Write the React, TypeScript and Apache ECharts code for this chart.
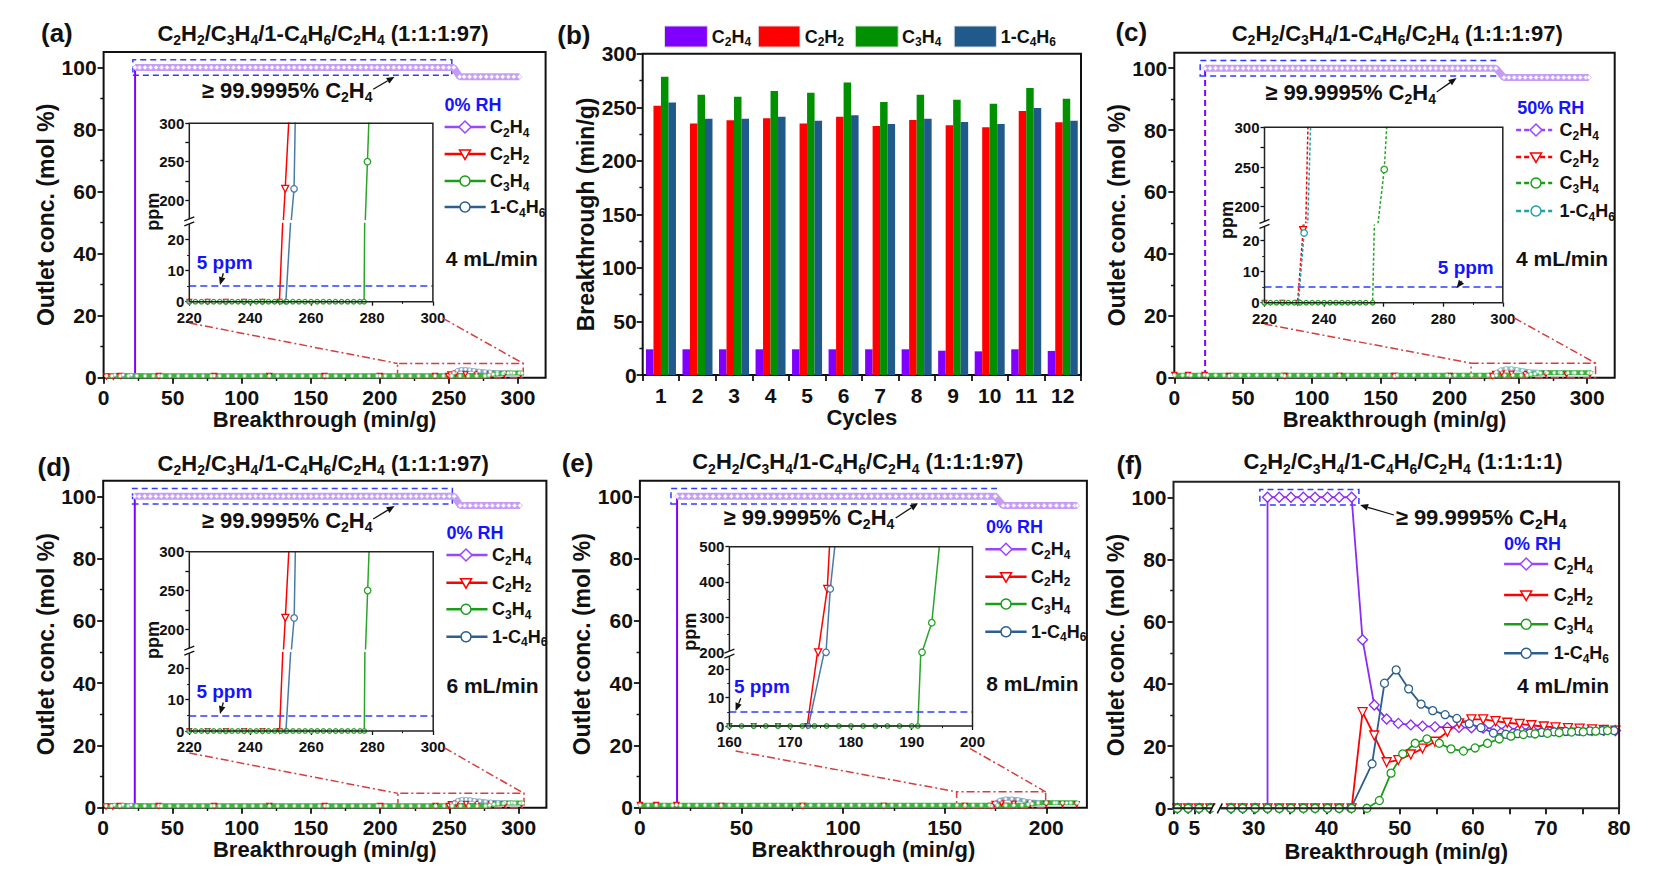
import React, { useEffect, useRef } from 'react';
import * as echarts from 'echarts';

const FF = "'Liberation Sans', Arial, Helvetica, sans-serif";
const TXT = '#111111';
const PURPLE = '#8000ff';
const RED = '#ff0000';
const GREEN = '#1a9e1a';
const BLUE = '#2d5f8e';
const TEAL = '#20a0a8';
const RH_BLUE = '#1414ff';
const DASH_BLUE = '#2f3dff';
const ZOOM_RED = '#d83c3c';

// ---------- (b) cycling test ----------
const cycles = ['1', '2', '3', '4', '5', '6', '7', '8', '9', '10', '11', '12'];
const bC2H4 = [24, 24, 24, 24, 24, 24, 24, 24, 22.7, 22.1, 24, 22.5];
const bC2H2 = [251.5, 235, 238, 239.7, 235, 241.3, 232.5, 238.1, 233.2, 231.3, 246.5, 236];
const bC3H4 = [278.6, 261.8, 260, 265.2, 263.7, 273.3, 255, 261.8, 257.1, 253.4, 268, 258];
const bC4H6 = [254.6, 239.4, 239.4, 241.3, 237.5, 242.5, 234.4, 239.4, 236.3, 234.4, 249.4, 237.5];

// ---------- tick label lists ----------
const mainYTicks = [0, 20, 40, 60, 80, 100];
const mainXTicks300 = [0, 50, 100, 150, 200, 250, 300];
const mainXTicks200 = [0, 50, 100, 150, 200];
const insLowTicks = [0, 10, 20];
const insUpLabels = [200, 250, 300];
const insUpTicks = [200, 225, 250, 275, 300];
const fLeftTicks = [0, 5];
const fRightLabels = [30, 40, 50, 60, 70, 80];
const fRightTicks = [30, 35, 40, 45, 50, 55, 60, 65, 70, 75, 80];

// ---------- (a) and (d): 0% RH, 4 / 6 mL/min (curves read identical) ----------
const aMainC2H4 = [[2, 0.6], [8, 0.6], [14, 0.6], [20, 0.6], [22.8, 0.6], [22.8, 100],
  [26, 100], [30, 100], [34, 100], [38, 100], [42, 100], [46, 100], [50, 100], [54, 100], [58, 100], [62, 100], [66, 100], [70, 100], [74, 100], [78, 100],
  [82, 100], [86, 100], [90, 100], [94, 100], [98, 100], [102, 100], [106, 100], [110, 100], [114, 100], [118, 100], [122, 100], [126, 100], [130, 100],
  [134, 100], [138, 100], [142, 100], [146, 100], [150, 100], [154, 100], [158, 100], [162, 100], [166, 100], [170, 100], [174, 100], [178, 100], [182, 100],
  [186, 100], [190, 100], [194, 100], [198, 100], [202, 100], [206, 100], [210, 100], [214, 100], [218, 100], [222, 100], [226, 100], [230, 100], [234, 100],
  [238, 100], [242, 100], [246, 100], [250, 100], [253.5, 100],
  [257.8, 97], [261, 97], [265, 97], [269, 97], [273, 97], [277, 97], [281, 97], [285, 97], [289, 97], [293, 97], [297, 97], [301, 97]];
const aMainC2H2 = [[2, 0.4], [7, 0.3], [12, 0.6], [40, 0.6], [80, 0.6], [120, 0.6], [160, 0.6], [200, 0.6], [240, 0.6], [249.5, 0.6], [251, 1.1], [255, 1.3],
  [262, 1.2], [270, 1.2], [280, 1.1], [290, 1.1], [302, 1.1]];
const aMainC4H6 = [[8, 0.9], [14, 0.9], [20, 0.9], [40, 0.6], [80, 0.6], [120, 0.6], [160, 0.6], [200, 0.6], [240, 0.6], [251.5, 0.6], [253.5, 1.6], [256, 2.4],
  [259, 2.7], [262, 2.7], [265, 2.6], [268, 2.4], [272, 2.2], [276, 2.0], [280, 1.9], [285, 1.8], [290, 1.7], [295, 1.6], [302, 1.5]];
const aMainC3H4 = [[2, 0.6], [6, 0.6], [12, 0.6], [18, 0.6], [24, 0.6], [30, 0.6], [36, 0.6], [42, 0.6], [48, 0.6], [54, 0.6], [60, 0.6], [66, 0.6], [72, 0.6],
  [78, 0.6], [84, 0.6], [90, 0.6], [96, 0.6], [102, 0.6], [108, 0.6], [114, 0.6], [120, 0.6], [126, 0.6], [132, 0.6], [138, 0.6], [144, 0.6], [150, 0.6],
  [156, 0.6], [162, 0.6], [168, 0.6], [174, 0.6], [180, 0.6], [186, 0.6], [192, 0.6], [198, 0.6], [204, 0.6], [210, 0.6], [216, 0.6], [222, 0.6], [228, 0.6],
  [234, 0.6], [240, 0.6], [246, 0.6], [252, 0.6], [258, 0.6], [264, 0.6], [270, 0.6], [276, 0.6], [279, 0.8], [282, 1.1], [285, 1.3], [289, 1.4], [293, 1.5],
  [297, 1.5], [301, 1.5], [303, 1.5]];
const aInsC2H2 = [[220, 0], [226, 0], [232, 0], [238, 0], [244, 0], [249.6, 0], [250.7, 26], [250.9, 174], [251.5, 214.7], [252.7, 305]];
const aInsC4H6 = [[220, 0], [226, 0], [232, 0], [238, 0], [244, 0], [251.7, 0], [253.3, 26], [253.5, 174], [254.4, 214.7], [254.8, 305]];
const aInsC3H4 = [[220, 0], [222, 0], [224, 0], [226, 0], [228, 0], [230, 0], [232, 0], [234, 0], [236, 0], [238, 0], [240, 0], [242, 0], [244, 0], [246, 0],
  [248, 0], [250, 0], [252, 0], [254, 0], [256, 0], [258, 0], [260, 0], [262, 0], [264, 0], [266, 0], [268, 0], [270, 0], [272, 0], [274, 0], [276, 0],
  [277.4, 0], [277.6, 26], [277.8, 174], [278.5, 250], [279.0, 305]];

// ---------- (c): 50% RH ----------
const cMainC2H4 = [[0, 0.8], [5, 0.8], [10, 0.8], [15, 0.8], [20, 0.8], [22.4, 0.8], [22.4, 100],
  [26, 100], [30, 100], [34, 100], [38, 100], [42, 100], [46, 100], [50, 100], [54, 100], [58, 100], [62, 100], [66, 100], [70, 100], [74, 100], [78, 100],
  [82, 100], [86, 100], [90, 100], [94, 100], [98, 100], [102, 100], [106, 100], [110, 100], [114, 100], [118, 100], [122, 100], [126, 100], [130, 100],
  [134, 100], [138, 100], [142, 100], [146, 100], [150, 100], [154, 100], [158, 100], [162, 100], [166, 100], [170, 100], [174, 100], [178, 100], [182, 100],
  [186, 100], [190, 100], [194, 100], [198, 100], [202, 100], [206, 100], [210, 100], [214, 100], [218, 100], [222, 100], [226, 100], [230, 100], [233.7, 100],
  [239.5, 97], [243, 97], [247, 97], [251, 97], [255, 97], [259, 97], [263, 97], [267, 97], [271, 97], [275, 97], [279, 97], [283, 97], [287, 97], [291, 97],
  [295, 97], [299, 97], [301.2, 97]];
const cMainC2H2 = [[0, 0.9], [10, 0.9], [22, 0.9], [40, 0.6], [80, 0.6], [120, 0.6], [160, 0.6], [200, 0.6], [231, 0.6], [233, 1.2], [238, 1.4], [245, 1.3],
  [255, 1.2], [270, 1.2], [285, 1.1], [302, 1.1]];
const cMainC4H6 = [[0, 0.9], [10, 0.9], [22, 0.9], [40, 0.6], [80, 0.6], [120, 0.6], [160, 0.6], [200, 0.6], [231.5, 0.6], [234, 1.8], [237, 2.6], [241, 3.0],
  [245, 3.0], [249, 2.7], [253, 2.4], [258, 2.1], [264, 1.9], [270, 1.8], [280, 1.7], [290, 1.6], [302, 1.5]];
const cMainC3H4 = [[0, 0.8], [6, 0.8], [12, 0.8], [18, 0.8], [24, 0.8], [30, 0.8], [36, 0.8], [42, 0.8], [48, 0.8], [54, 0.8], [60, 0.8], [66, 0.8], [72, 0.8],
  [78, 0.8], [84, 0.8], [90, 0.8], [96, 0.8], [102, 0.8], [108, 0.8], [114, 0.8], [120, 0.8], [126, 0.8], [132, 0.8], [138, 0.8], [144, 0.8], [150, 0.8],
  [156, 0.8], [162, 0.8], [168, 0.8], [174, 0.8], [180, 0.8], [186, 0.8], [192, 0.8], [198, 0.8], [204, 0.8], [210, 0.8], [216, 0.8], [222, 0.8], [228, 0.8],
  [234, 0.8], [240, 0.8], [246, 0.8], [252, 0.8], [256.3, 0.8], [259, 1.1], [262, 1.3], [266, 1.5], [271, 1.6], [276, 1.6], [281, 1.6], [286, 1.6], [291, 1.6],
  [296, 1.6], [301, 1.6], [303, 1.6]];
const cInsC2H2 = [[220, 0], [226, 0], [231.1, 0], [232.96, 23.4], [234.6, 305]];
const cInsC4H6 = [[220, 0], [226, 0], [231.4, 0], [233.3, 22.5], [235.5, 305]];
const cInsC3H4 = [[220, 0], [222, 0], [224, 0], [226, 0], [228, 0], [230, 0], [232, 0], [234, 0], [236, 0], [238, 0], [240, 0], [242, 0], [244, 0], [246, 0],
  [248, 0], [250, 0], [252, 0], [254, 0], [256.3, 0], [256.9, 26], [258.1, 179], [260.2, 247], [261.1, 305]];

// ---------- (e): 8 mL/min ----------
const eMainC2H4 = [[0, 0.8], [5, 0.8], [10, 0.8], [15, 0.8], [18.3, 0.8], [18.3, 100],
  [21, 100], [24, 100], [27, 100], [30, 100], [33, 100], [36, 100], [39, 100], [42, 100], [45, 100], [48, 100], [51, 100], [54, 100], [57, 100], [60, 100],
  [63, 100], [66, 100], [69, 100], [72, 100], [75, 100], [78, 100], [81, 100], [84, 100], [87, 100], [90, 100], [93, 100], [96, 100], [99, 100], [102, 100],
  [105, 100], [108, 100], [111, 100], [114, 100], [117, 100], [120, 100], [123, 100], [126, 100], [129, 100], [132, 100], [135, 100], [138, 100], [141, 100],
  [144, 100], [147, 100], [150, 100], [153, 100], [156, 100], [159, 100], [162, 100], [165, 100], [168, 100], [171, 100], [174.9, 100],
  [178.8, 97], [181, 97], [184, 97], [187, 97], [190, 97], [193, 97], [196, 97], [199, 97], [202, 97], [205, 97], [208, 97], [211, 97], [214, 97], [215.3, 97]];
const eMainC2H2 = [[0, 0.9], [8, 0.9], [18, 0.9], [40, 0.6], [80, 0.6], [120, 0.6], [160, 0.6], [172.8, 0.6], [174.5, 1.2], [178, 1.4], [184, 1.3], [192, 1.2],
  [200, 1.2], [208, 1.1], [215, 1.1]];
const eMainC4H6 = [[0, 0.9], [8, 0.9], [18, 0.9], [40, 0.6], [80, 0.6], [120, 0.6], [160, 0.6], [173, 0.6], [175, 1.5], [177, 2.5], [180, 2.9], [183, 2.9],
  [186, 2.7], [189, 2.3], [192, 2.0], [196, 1.8], [200, 1.7], [205, 1.6], [210, 1.5], [215, 1.5]];
const eMainC3H4 = [[0, 0.8], [4, 0.8], [8, 0.8], [12, 0.8], [16, 0.8], [20, 0.8], [24, 0.8], [28, 0.8], [32, 0.8], [36, 0.8], [40, 0.8], [44, 0.8], [48, 0.8],
  [52, 0.8], [56, 0.8], [60, 0.8], [64, 0.8], [68, 0.8], [72, 0.8], [76, 0.8], [80, 0.8], [84, 0.8], [88, 0.8], [92, 0.8], [96, 0.8], [100, 0.8], [104, 0.8],
  [108, 0.8], [112, 0.8], [116, 0.8], [120, 0.8], [124, 0.8], [128, 0.8], [132, 0.8], [136, 0.8], [140, 0.8], [144, 0.8], [148, 0.8], [152, 0.8], [156, 0.8],
  [160, 0.8], [164, 0.8], [168, 0.8], [172, 0.8], [176, 0.8], [180, 0.8], [184, 0.8], [188, 0.8], [191, 1.0], [193, 1.3], [196, 1.5], [200, 1.6], [204, 1.6],
  [208, 1.6], [212, 1.6], [215.3, 1.6]];
const eInsC2H2 = [[160, 0], [164, 0], [168, 0], [172.8, 0], [174.5, 26], [174.6, 200], [176.1, 380], [176.5, 510]];
const eInsC4H6 = [[160, 0], [164, 0], [168, 0], [173.0, 0], [175.6, 26], [175.9, 200], [176.6, 380], [177.4, 510]];
const eInsC3H4 = [[160, 0], [162, 0], [164, 0], [166, 0], [168, 0], [170, 0], [172, 0], [174, 0], [176, 0], [178, 0], [180, 0], [182, 0], [184, 0], [186, 0],
  [188, 0], [190, 0], [191.0, 0], [191.5, 26], [191.7, 200], [193.3, 284], [194.6, 510]];

// ---------- (f): 1:1:1:1 ----------
const fC2H4 = [[0.9, 0], [3.5, 0], [6.1, 0], [8.8, 0], [26.9, 0], [28.5, 0], [30.2, 0], [31.9, 0], [31.9, 100], [33.5, 100], [35.1, 100], [36.8, 100],
  [38.4, 100], [40.1, 100], [41.7, 100], [43.4, 100], [44.9, 54.2], [46.5, 33.2], [48.2, 28.7], [49.8, 27.3], [51.5, 26.8], [53.1, 26.4], [54.8, 26.2],
  [56.5, 26.0], [58.1, 26.0], [59.8, 25.9], [61.4, 25.8], [63.1, 25.7], [64.7, 25.6], [66.4, 25.5], [68.0, 25.4], [69.7, 25.3], [71.3, 25.2], [73.0, 25.1],
  [74.6, 25.1], [76.3, 25.0], [77.9, 25.0], [79.5, 25.0]];
const fC2H2 = [[0.9, 0], [3.5, 0], [6.1, 0], [8.8, 0], [26.9, 0], [28.5, 0], [30.2, 0], [31.9, 0], [33.5, 0], [35.1, 0], [36.8, 0], [38.4, 0], [40.1, 0],
  [41.7, 0], [43.4, 0], [44.9, 30.9], [46.5, 23.4], [48.2, 14.8], [49.8, 15.5], [51.5, 17.3], [53.1, 19.2], [54.8, 21.4], [56.5, 24.6], [58.1, 27.3],
  [59.8, 28.6], [61.4, 28.6], [63.1, 28.0], [64.7, 27.5], [66.4, 27.1], [68.0, 26.7], [69.7, 26.3], [71.3, 26.0], [73.0, 25.8], [74.6, 25.6], [76.3, 25.4],
  [77.9, 25.2], [79.5, 25.0]];
const fC3H4 = [[0.9, 0], [3.5, 0], [6.1, 0], [8.8, 0], [26.9, 0], [28.5, 0], [30.2, 0], [31.9, 0], [33.5, 0], [35.1, 0], [36.8, 0], [38.4, 0], [40.1, 0],
  [41.7, 0], [43.4, 0], [45.5, 0], [47.2, 2.5], [48.8, 11.3], [50.4, 17.5], [52.1, 20.9], [53.7, 22.3], [55.4, 20.9], [57.0, 19.1], [58.7, 18.4], [60.3, 19.4],
  [62.0, 20.9], [63.6, 22.3], [65.2, 23.2], [66.9, 23.7], [68.5, 23.9], [70.2, 24.1], [71.8, 24.3], [73.5, 24.5], [75.1, 24.6], [76.8, 24.8], [78.4, 25.0]];
const fC4H6 = [[0.9, 0], [3.5, 0], [6.1, 0], [8.8, 0], [26.9, 0], [28.5, 0], [30.2, 0], [31.9, 0], [33.5, 0], [35.1, 0], [36.8, 0], [38.4, 0], [40.1, 0],
  [41.7, 0], [43.3, 0], [46.2, 14.3], [47.9, 40.2], [49.5, 44.5], [51.2, 38.4], [52.9, 33.5], [54.5, 31.4], [56.2, 30.1], [57.8, 28.9], [59.5, 27.2],
  [61.1, 25.9], [62.8, 24.2], [64.5, 23.8], [66.1, 24.0], [67.8, 24.2], [69.4, 24.4], [71.1, 24.6], [72.7, 24.7], [74.4, 24.8], [76.0, 24.9], [77.7, 25.0],
  [79.3, 25.0]];

const title97 = 'C2H2/C3H4/1-C4H6/C2H4 (1:1:1:97)';
const title1 = 'C2H2/C3H4/1-C4H6/C2H4 (1:1:1:1)';
const purity = '≥ 99.9995% C2H4';

// ---------- layout ----------
const grids: any[] = [
  { left: 103.6, top: 52, width: 442, height: 325.7 },     // 0 a main
  { left: 189.3, top: 223.5, width: 243.6, height: 78.2 },  // 1 a inset low
  { left: 189.3, top: 123.3, width: 243.6, height: 96 },    // 2 a inset up
  { left: 642.7, top: 53.8, width: 438.3, height: 321.2 },  // 3 b
  { left: 1174.3, top: 52.7, width: 440.4, height: 325 },   // 4 c main
  { left: 1264.5, top: 225.2, width: 238.3, height: 77.5 }, // 5 c low
  { left: 1264.5, top: 127.3, width: 238.3, height: 95.3 }, // 6 c up
  { left: 103.2, top: 480.7, width: 443.2, height: 327 },   // 7 d main
  { left: 189.3, top: 652.7, width: 243.9, height: 78.3 },  // 8 d low
  { left: 189.3, top: 551.7, width: 243.9, height: 97 },    // 9 d up
  { left: 639.9, top: 480.7, width: 447, height: 327 },     // 10 e main
  { left: 729.4, top: 655, width: 243.1, height: 71 },      // 11 e low
  { left: 729.4, top: 546.7, width: 243.1, height: 105.6 }, // 12 e up
  { left: 1173.5, top: 481.7, width: 41.8, height: 326.6 }, // 13 f left
  { left: 1217.1, top: 481.7, width: 402, height: 326.6 },  // 14 f right
];
const framed = [0, 3, 4, 7, 10];

function vAxis(o: any) {
  const tl = o.tickLen ?? 6;
  const tw = o.tickW ?? 1.8;
  const ax: any = {
    type: 'value', gridIndex: o.grid, min: o.min, max: o.max, interval: o.interval,
    show: o.show !== false,
    axisLine: { show: false },
    splitLine: { show: false },
    axisTick: { show: true, inside: false, length: tl, lineStyle: { color: TXT, width: tw } },
    minorTick: { show: !!o.minor, splitNumber: o.minor || 2, length: tl * 0.55, lineStyle: { color: TXT, width: tw * 0.8 } },
    axisLabel: { show: true, margin: o.margin ?? 8, fontFamily: FF, fontWeight: 'bold', fontSize: o.size ?? 21, color: TXT },
  };
  if (o.ticks) ax.axisTick.customValues = o.ticks;
  if (o.labels) ax.axisLabel.customValues = o.labels;
  if (o.name) Object.assign(ax, { name: o.name, nameLocation: 'middle', nameGap: o.nameGap, nameTextStyle: { fontFamily: FF, fontWeight: 'bold', fontSize: o.nameSize ?? 22, color: TXT } });
  return ax;
}

const BT = 'Breakthrough (min/g)';
const OC = 'Outlet conc. (mol %)';
const mainX = (g: number, gap: number) => vAxis({ grid: g, min: 0, max: 320, interval: 50, labels: mainXTicks300, ticks: mainXTicks300, minor: 2, margin: 9, name: BT, nameGap: gap });
const mainY = (g: number, gap: number) => vAxis({ grid: g, min: 0, max: 105, interval: 20, labels: mainYTicks, ticks: mainYTicks, minor: 2, margin: 7, name: OC, nameGap: gap, nameSize: 23 });
const insX = (g: number, min: number, max: number, int: number) => vAxis({ grid: g, min, max, interval: int, minor: 2, size: 15, margin: 8, tickLen: 4, tickW: 1.3 });
const insXHidden = (g: number, min: number, max: number) => vAxis({ grid: g, min, max, interval: max - min, show: false });
const insYLow = (g: number) => vAxis({ grid: g, min: 0, max: 25, interval: 10, labels: insLowTicks, ticks: insLowTicks, minor: 2, size: 15, margin: 5, tickLen: 4, tickW: 1.3 });
const insYUp = (g: number, min: number) => vAxis({ grid: g, min, max: 300, interval: 300 - min, labels: insUpLabels, ticks: insUpTicks, size: 15, margin: 5, tickLen: 4, tickW: 1.3 });

const bX = {
  type: 'category', gridIndex: 3, data: cycles,
  axisLine: { show: false }, splitLine: { show: false },
  axisTick: { show: true, length: 6, alignWithLabel: false, lineStyle: { color: TXT, width: 1.8 } },
  axisLabel: { interval: 0, margin: 10, fontFamily: FF, fontWeight: 'bold', fontSize: 21, color: TXT },
  name: 'Cycles', nameLocation: 'middle', nameGap: 28, nameTextStyle: { fontFamily: FF, fontWeight: 'bold', fontSize: 22, color: TXT },
};

function lineS(gi: number, data: any[], o: any) {
  return {
    type: 'line', xAxisIndex: gi, yAxisIndex: gi, data, clip: true, silent: true,
    emphasis: { disabled: true },
    symbol: o.symbol ?? 'none', showSymbol: (o.symbol ?? 'none') !== 'none',
    symbolSize: o.size ?? 7, symbolRotate: o.rotate ?? 0,
    lineStyle: { color: o.color, width: o.width ?? 1.5, type: o.dash ?? 'solid' },
    itemStyle: { color: o.fill ?? '#ffffff', borderColor: o.stroke ?? o.color, borderWidth: o.bw ?? 1.3 },
    markArea: o.markArea, markLine: o.markLine, z: o.z ?? 2,
  };
}

const areaBox = (x1: number, y1: number, x2: number, y2: number, color: string, dash: number[]) => ({
  silent: true, label: { show: false },
  itemStyle: { color: 'rgba(0,0,0,0)', borderColor: color, borderWidth: 1.5, borderType: dash },
  data: [[{ coord: [x1, y1] }, { coord: [x2, y2] }]],
});
const ppmLine = {
  silent: true, symbol: 'none', label: { show: false },
  lineStyle: { color: DASH_BLUE, type: [7, 4], width: 1.5 },
  data: [{ yAxis: 5 }],
};

function mainSeries(gi: number, d: any, dashed: boolean, hump: string, zoom: number[], box: number[]) {
  return [
    lineS(gi, d.c2h4, { color: PURPLE, width: 2, dash: dashed ? [6, 4] : 'solid' }),
    lineS(gi, d.c2h2, { symbol: 'triangle', rotate: 180, size: 5, color: RED, width: 1.5 }),
    lineS(gi, d.c4h6, { symbol: 'circle', size: 3.5, color: hump, width: 4, fill: '#ffffff', stroke: hump, bw: 0.8 }),
    lineS(gi, d.c3h4, { symbol: 'circle', size: 3.5, color: '#3db43d', width: 5, fill: '#ffffff', stroke: '#7ccf7c', bw: 0.8,
      markArea: areaBox(zoom[0], 0, zoom[1], zoom[2], ZOOM_RED, [8, 3, 2, 3]) }),
    lineS(gi, d.c2h4.filter((p: number[]) => p[1] > 50), { symbol: 'diamond', size: 5, color: '#c49cf3', width: 7, fill: '#ffffff', stroke: '#cfaef5', bw: 0.8,
      markArea: areaBox(box[0], 97.5, box[1], 102.5, DASH_BLUE, [6, 4]) }),
  ];
}

function insetSeries(gLow: number, gUp: number, d: any, dashed: boolean, c4: string) {
  const dash = dashed ? [3, 2] : 'solid';
  const sz = (big: number) => (v: number[]) => (v[1] === 0 ? 4.5 : big);
  const out: any[] = [];
  [gLow, gUp].forEach((gi) => {
    out.push(lineS(gi, d.c2h2, { symbol: 'triangle', rotate: 180, size: sz(7), color: RED, width: 1.5, dash }));
    out.push(lineS(gi, d.c4h6, { symbol: 'circle', size: sz(6.5), color: c4, width: 1.5, dash }));
    out.push(lineS(gi, d.c3h4, { symbol: 'circle', size: sz(6.5), color: '#2aa52a', width: 1.5, dash, markLine: gi === gLow ? ppmLine : undefined }));
  });
  return out;
}

function fSeries() {
  const out: any[] = [];
  [13, 14].forEach((gi) => {
    out.push(lineS(gi, fC2H4, { symbol: 'diamond', size: 10, color: '#8a2cf5', width: 1.8,
      markArea: gi === 14 ? areaBox(30.85, 97.5, 44.4, 102.5, DASH_BLUE, [6, 4]) : undefined }));
    out.push(lineS(gi, fC2H2, { symbol: 'triangle', rotate: 180, size: 9, color: RED, width: 1.8 }));
    out.push(lineS(gi, fC4H6, { symbol: 'circle', size: 8, color: BLUE, width: 1.8 }));
    out.push(lineS(gi, fC3H4, { symbol: 'circle', size: 8, color: GREEN, width: 1.8 }));
  });
  return out;
}

function buildOption() {
  const A = { c2h4: aMainC2H4, c2h2: aMainC2H2, c3h4: aMainC3H4, c4h6: aMainC4H6 };
  const AI = { c2h2: aInsC2H2, c3h4: aInsC3H4, c4h6: aInsC4H6 };
  const C = { c2h4: cMainC2H4, c2h2: cMainC2H2, c3h4: cMainC3H4, c4h6: cMainC4H6 };
  const CI = { c2h2: cInsC2H2, c3h4: cInsC3H4, c4h6: cInsC4H6 };
  const E = { c2h4: eMainC2H4, c2h2: eMainC2H2, c3h4: eMainC3H4, c4h6: eMainC4H6 };
  const EI = { c2h2: eInsC2H2, c3h4: eInsC3H4, c4h6: eInsC4H6 };
  const bar = (data: number[], color: string) => ({
    type: 'bar', xAxisIndex: 3, yAxisIndex: 3, data, barWidth: 7.5, barGap: '0%', silent: true,
    itemStyle: { color }, emphasis: { disabled: true },
  });
  return {
    animation: false,
    backgroundColor: '#ffffff',
    grid: grids.map((g, i) => ({ ...g, show: framed.includes(i), borderColor: TXT, borderWidth: 2, backgroundColor: 'transparent', containLabel: false, outerBoundsMode: 'none' })),
    xAxis: [
      mainX(0, 27), insX(1, 220, 300, 20), insXHidden(2, 220, 300),
      bX,
      mainX(4, 27), insX(5, 220, 300, 20), insXHidden(6, 220, 300),
      mainX(7, 29), insX(8, 220, 300, 20), insXHidden(9, 220, 300),
      vAxis({ grid: 10, min: 0, max: 220, interval: 50, labels: mainXTicks200, ticks: mainXTicks200, minor: 2, margin: 9, name: BT, nameGap: 31 }),
      insX(11, 160, 200, 10), insXHidden(12, 160, 200),
      vAxis({ grid: 13, min: 0, max: 10, interval: 5, labels: fLeftTicks, ticks: fLeftTicks, margin: 9 }),
      vAxis({ grid: 14, min: 25, max: 80, interval: 5, labels: fRightLabels, ticks: fRightTicks, margin: 9 }),
    ],
    yAxis: [
      mainY(0, 38.5), insYLow(1), insYUp(2, 175),
      vAxis({ grid: 3, min: 0, max: 300, interval: 50, minor: 2, margin: 6, name: BT, nameGap: 45, nameSize: 23 }),
      mainY(4, 35), insYLow(5), insYUp(6, 180),
      mainY(7, 40), insYLow(8), insYUp(9, 175),
      mainY(10, 36), insYLow(11),
      vAxis({ grid: 12, min: 200, max: 500, interval: 100, minor: 2, size: 15, margin: 5, tickLen: 4, tickW: 1.3 }),
      mainY(13, 38.5),
      vAxis({ grid: 14, min: 0, max: 105, interval: 20, show: false }),
    ],
    series: [
      ...mainSeries(0, A, false, '#86a8c8', [212.8, 303.8, 4.6], [21.2, 252.1]),
      ...insetSeries(1, 2, AI, false, '#4a7aa6'),
      bar(bC2H4, '#8000ff'), bar(bC2H2, '#ff0000'), bar(bC3H4, '#009000'), bar(bC4H6, '#1f5a8a'),
      ...mainSeries(4, C, true, '#7fc4c8', [215.6, 306.1, 4.7], [18.8, 233.4]),
      ...insetSeries(5, 6, CI, true, TEAL),
      ...mainSeries(7, A, false, '#86a8c8', [212.8, 303.8, 4.6], [21.2, 252.1]),
      ...insetSeries(8, 9, AI, false, '#4a7aa6'),
      ...mainSeries(10, E, false, '#86a8c8', [155.9, 199.7, 5.1], [15.3, 175.4]),
      ...insetSeries(11, 12, EI, false, '#4a7aa6'),
      ...fSeries(),
    ],
  };
}

// ---------- graphic helpers ----------
function chemRich(s: string) {
  let out = '';
  let buf = '';
  let mode = '';
  let prevSub = false;
  const flush = () => { if (buf) out += '{' + mode + '|' + buf + '}'; buf = ''; };
  for (let i = 0; i < s.length; i++) {
    const ch = s[i];
    const prev = i > 0 ? s[i - 1] : '';
    const isDigit = ch >= '0' && ch <= '9';
    const sub = isDigit && (/[A-Za-z]/.test(prev) || prevSub);
    const m = sub ? 's' : 'n';
    if (m !== mode) { flush(); mode = m; }
    buf += ch;
    prevSub = sub;
  }
  flush();
  return out;
}

function T(x: number, y: number, s: string, size: number, color = TXT, align = 'left', rot = 0) {
  const sub = Math.round(size * 0.64);
  return {
    type: 'text', x, y, rotation: rot, z: 60, silent: true,
    style: {
      text: chemRich(s), align, verticalAlign: 'middle',
      fill: color, fontFamily: FF, fontWeight: 'bold', fontSize: size,
      rich: {
        n: { fill: color, fontFamily: FF, fontWeight: 'bold', fontSize: size },
        s: { fill: color, fontFamily: FF, fontWeight: 'bold', fontSize: sub, padding: [Math.round(size * 0.62), 0, 0, 0] },
      },
    },
  };
}

function L(x1: number, y1: number, x2: number, y2: number, stroke: string, w: number, dash?: number[], z = 40) {
  return { type: 'line', z, silent: true, shape: { x1, y1, x2, y2 }, style: { stroke, lineWidth: w, lineDash: dash || null } };
}

function arrow(x1: number, y1: number, x2: number, y2: number, color = TXT) {
  const ang = Math.atan2(y2 - y1, x2 - x1);
  const len = 8, hw = 3.3;
  const bx = x2 - len * Math.cos(ang), by = y2 - len * Math.sin(ang);
  const nx = -Math.sin(ang), ny = Math.cos(ang);
  return [
    L(x1, y1, bx, by, color, 1.3, undefined, 50),
    { type: 'polygon', z: 50, silent: true, shape: { points: [[x2, y2], [bx + nx * hw, by + ny * hw], [bx - nx * hw, by - ny * hw]] }, style: { fill: color } },
  ];
}

function sym(kind: string, cx: number, cy: number, color: string) {
  const st = { fill: '#ffffff', stroke: color, lineWidth: 1.5 };
  if (kind === 'diamond') return { type: 'polygon', z: 55, shape: { points: [[cx, cy - 6], [cx + 6, cy], [cx, cy + 6], [cx - 6, cy]] }, style: st };
  if (kind === 'tri') return { type: 'polygon', z: 55, shape: { points: [[cx - 5.5, cy - 4], [cx + 5.5, cy - 4], [cx, cy + 5.5]] }, style: st };
  return { type: 'circle', z: 55, shape: { cx, cy, r: 5 }, style: st };
}

function legend(rh: string, rhX: number, rhY: number, rows: number[], lx1: number, lx2: number, sx: number, tx: number, dashed: boolean, c3: string, c4: string) {
  const items = [
    { label: 'C2H4', kind: 'diamond', color: '#9b45ff' },
    { label: 'C2H2', kind: 'tri', color: RED },
    { label: 'C3H4', kind: 'circle', color: c3 },
    { label: '1-C4H6', kind: 'circle', color: c4 },
  ];
  const els: any[] = [T(rhX, rhY, rh, 18, RH_BLUE)];
  items.forEach((it, i) => {
    const y = rows[i];
    els.push(L(lx1, y, lx2, y, it.color, 2.5, dashed ? [5, 3] : undefined, 54));
    els.push(sym(it.kind, sx, y, it.color));
    els.push(T(tx, y, it.label, 18));
  });
  return els;
}

function frame(x1: number, y1: number, x2: number, y2: number, w = 1.5) {
  return { type: 'rect', z: 30, silent: true, shape: { x: x1, y: y1, width: x2 - x1, height: y2 - y1 }, style: { fill: 'none', stroke: '#222222', lineWidth: w } };
}

function vBreak(x: number, y: number) {
  return [
    { type: 'rect', z: 70, silent: true, shape: { x: x - 4, y: y - 2.5, width: 8, height: 5 }, style: { fill: '#ffffff' } },
    L(x - 5, y - 0.5, x + 5, y - 4.5, TXT, 1.3, undefined, 71),
    L(x - 5, y + 4.5, x + 5, y + 0.5, TXT, 1.3, undefined, 71),
  ];
}
function hBreak(x: number, y: number) {
  return [
    { type: 'rect', z: 70, silent: true, shape: { x: x - 4, y: y - 3, width: 8, height: 6 }, style: { fill: '#ffffff' } },
    L(x - 7, y + 5, x - 2, y - 5, TXT, 1.5, undefined, 71),
    L(x + 1, y + 5, x + 6, y - 5, TXT, 1.5, undefined, 71),
  ];
}

function buildGraphics(px: (gi: number, p: number[]) => number[]) {
  const RD = [8, 3, 2, 3];
  const els: any[] = [];
  // panel labels and titles
  els.push(T(41, 33, '(a)', 26), T(323, 33, title97, 22, TXT, 'center'));
  els.push(T(557.3, 35, '(b)', 26));
  els.push(T(1115.4, 32, '(c)', 26), T(1397.3, 33, title97, 22, TXT, 'center'));
  els.push(T(37.5, 466.7, '(d)', 26), T(323.2, 463.3, title97, 22, TXT, 'center'));
  els.push(T(561.7, 463.3, '(e)', 26), T(857.8, 461.7, title97, 22, TXT, 'center'));
  els.push(T(1116.5, 465, '(f)', 26), T(1403, 461.7, title1, 22, TXT, 'center'));

  // purity notes + arrows
  els.push(T(201.8, 90, purity, 22), ...arrow(373.2, 89.3, 394.6, 76.7));
  els.push(T(1265.2, 92, purity, 22), ...arrow(1436.7, 92, 1456.6, 78));
  els.push(T(201.8, 520, purity, 22), ...arrow(373.2, 519, 394.6, 506));
  els.push(T(723.6, 517, purity, 22), ...arrow(895.7, 518, 918.1, 503.3));
  els.push(T(1395.7, 517, purity, 22), ...arrow(1393.9, 515, 1360.1, 505));

  // legends
  els.push(...legend('0% RH', 444.6, 105, [127, 154, 181, 207], 444.6, 485.7, 465, 490, false, GREEN, BLUE));
  els.push(...legend('50% RH', 1517.2, 108, [130, 157, 183, 211], 1516.1, 1552.2, 1536, 1559.5, true, GREEN, TEAL));
  els.push(...legend('0% RH', 446.4, 533, [555, 582.7, 609.3, 636.7], 446.4, 487.5, 466, 492.1, false, GREEN, BLUE));
  els.push(...legend('0% RH', 986, 527.3, [549.3, 576.7, 604, 631.7], 985.3, 1026.6, 1006, 1031.1, false, GREEN, BLUE));
  els.push(...legend('0% RH', 1504.1, 544, [564, 595, 624.3, 653.3], 1504.1, 1548.2, 1526.2, 1553.7, false, GREEN, BLUE));

  // flow rates
  els.push(T(445.7, 258, '4 mL/min', 21), T(1516, 258, '4 mL/min', 21), T(446.4, 685, '6 mL/min', 21), T(986.3, 683.3, '8 mL/min', 21), T(1517, 685, '4 mL/min', 21));

  // insets: frames, breaks, labels
  els.push(frame(189.3, 123.3, 432.9, 301.7), ...vBreak(189.3, 221.4));
  els.push(frame(1264.5, 127.3, 1502.8, 302.7), ...vBreak(1264.5, 223.9));
  els.push(frame(189.3, 551.7, 433.2, 731), ...vBreak(189.3, 650.7));
  els.push(frame(729.4, 546.7, 972.5, 726), ...vBreak(729.4, 653.6));
  els.push(T(152.5, 211.7, 'ppm', 18, TXT, 'center', Math.PI / 2));
  els.push(T(1226.5, 220, 'ppm', 18, TXT, 'center', Math.PI / 2));
  els.push(T(152.5, 640, 'ppm', 18, TXT, 'center', Math.PI / 2));
  els.push(T(690, 631.7, 'ppm', 18, TXT, 'center', Math.PI / 2));
  els.push(T(196.7, 262, '5 ppm', 19, RH_BLUE), ...arrow(223.3, 273.3, 220, 285));
  els.push(T(1437.8, 267, '5 ppm', 19, RH_BLUE), ...arrow(1462, 281, 1456.6, 288));
  els.push(T(196.4, 691.7, '5 ppm', 19, RH_BLUE), ...arrow(223.3, 702.5, 220, 714));
  els.push(T(733.9, 686, '5 ppm', 19, RH_BLUE), ...arrow(740.8, 698.3, 735.6, 711));

  // zoom connectors (inset corners -> zoom rectangle corners in data space)
  const conn = (gi: number, zx1: number, zx2: number, zy: number, a: number[], b: number[]) => {
    const p1 = px(gi, [zx1, zy]);
    const p2 = px(gi, [zx2, zy]);
    els.push(L(a[0], a[1], p1[0], p1[1], ZOOM_RED, 1.5, RD), L(b[0], b[1], p2[0], p2[1], ZOOM_RED, 1.5, RD));
  };
  conn(0, 212.8, 303.8, 4.6, [189.3, 323], [442.9, 318.3]);
  conn(4, 215.6, 306.1, 4.7, [1264.5, 324], [1514.3, 318]);
  conn(7, 212.8, 303.8, 4.6, [189.3, 753], [444.6, 748]);
  conn(10, 155.9, 199.7, 5.1, [735.6, 751], [969.8, 748.3]);

  // panel b legend
  const bl = [
    { x: 664.5, w: 42.9, c: '#8000ff', t: 'C2H4', tx: 711.8 },
    { x: 758.3, w: 41.7, c: '#ff0000', t: 'C2H2', tx: 804.7 },
    { x: 855.3, w: 42.9, c: '#009000', t: 'C3H4', tx: 902 },
    { x: 954.2, w: 42.2, c: '#1f5a8a', t: '1-C4H6', tx: 1000.7 },
  ];
  bl.forEach((b) => {
    els.push({ type: 'rect', z: 55, silent: true, shape: { x: b.x, y: 26, width: b.w, height: 21 }, style: { fill: b.c, stroke: '#dddddd', lineWidth: 1 } });
    els.push(T(b.tx, 36.5, b.t, 18));
  });

  // panel f frame, axis break, x name
  els.push(frame(1173.5, 481.7, 1619.1, 808.3, 2), ...hBreak(1216.3, 808.3));
  els.push(T(1396.3, 851.7, BT, 22, TXT, 'center'));
  return els;
}

export default function App() {
  const ref = useRef<HTMLDivElement>(null);
  useEffect(() => {
    const chart = echarts.init(ref.current as HTMLDivElement, null, { renderer: 'svg' });
    chart.setOption(buildOption() as any);
    const px = (gi: number, p: number[]) => chart.convertToPixel({ gridIndex: gi } as any, p) as unknown as number[];
    chart.setOption({ graphic: { elements: buildGraphics(px) } } as any);
    return () => chart.dispose();
  }, []);
  return <div ref={ref} style={{ position: 'absolute', left: 0, top: 0, width: 1676, height: 887, background: '#ffffff' }} />;
}
